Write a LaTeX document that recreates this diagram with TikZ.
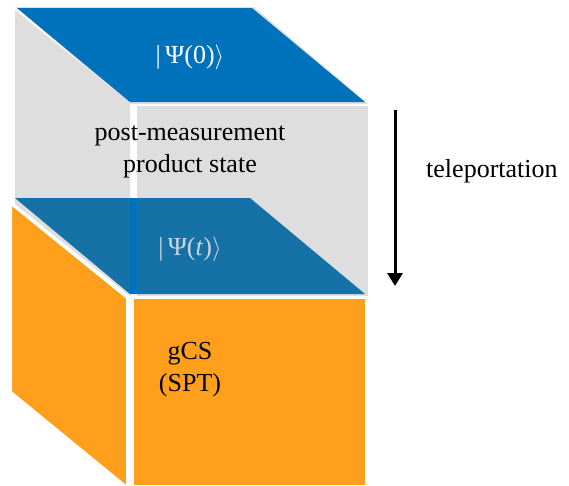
\documentclass[tikz,border=0pt]{standalone}
\usepackage{fontspec}
\setmainfont{Liberation Serif}
\usetikzlibrary{arrows.meta}
\definecolor{stateblue}{RGB}{0,114,188}
\definecolor{sheetblue}{RGB}{22,113,166}
\definecolor{boxgray}{RGB}{222,222,222}
\definecolor{sptorange}{RGB}{255,159,28}
\definecolor{psigray}{RGB}{205,214,222}
\tikzstyle{face}=[draw=none]
\tikzstyle{cut face}=[draw=white, line width=2pt]
\tikzstyle{label}=[font=\fontsize{26}{32}\selectfont, align=center, inner sep=0]
\tikzstyle{flow}=[-{Triangle[length=13pt, width=15pt]}, line width=3pt]

\begin{document}
\begin{tikzpicture}[x=1pt, y=-1pt]
          \useasboundingbox (0,0) rectangle (569,485);

          % upper box, gray
          \fill[face, boxgray] (15,7) -- (254,7) -- (368,104) -- (130,104) -- cycle;
          \fill[face, boxgray] (15,10) -- (130,103) -- (130,296) -- (15,204) -- cycle;
          \fill[face, boxgray] (137,106) rectangle (368,296);
          \fill[face, stateblue] (17,8) -- (252,8) -- (365,102) -- (130,102) -- cycle;

          % lower box, orange
          \filldraw[cut face, fill=sptorange] (11,204) -- (127,298) -- (127,487) -- (11,392) -- cycle;
          \fill[face, sptorange] (134,299) rectangle (365,485);

          % sheet between the boxes
          \fill[face, sheetblue] (15,198) -- (250,198) -- (365,294) -- (130,294) -- cycle;
          \fill[face, stateblue] (130,198) rectangle (137,294);

          \node[label, text=white] (psi_0) at (190,57) {|\,Ψ(0)$\rangle$};
          \node[label] (product) at (190,152) {post-measurement\\product state};
          \node[label, text=psigray] (psi_t) at (190,249) {|\,Ψ(\textit{t})$\rangle$};
          \node[label] (gcs) at (190,370) {gCS\\(SPT)};
          \node[label, anchor=west] (tele) at (426,171) {teleportation};

          \coordinate (flow_top) at (395,110);
          \coordinate (flow_bot) at (395,286);
          \draw[flow] (flow_top) -- (flow_bot);
        \end{tikzpicture}
\end{document}
